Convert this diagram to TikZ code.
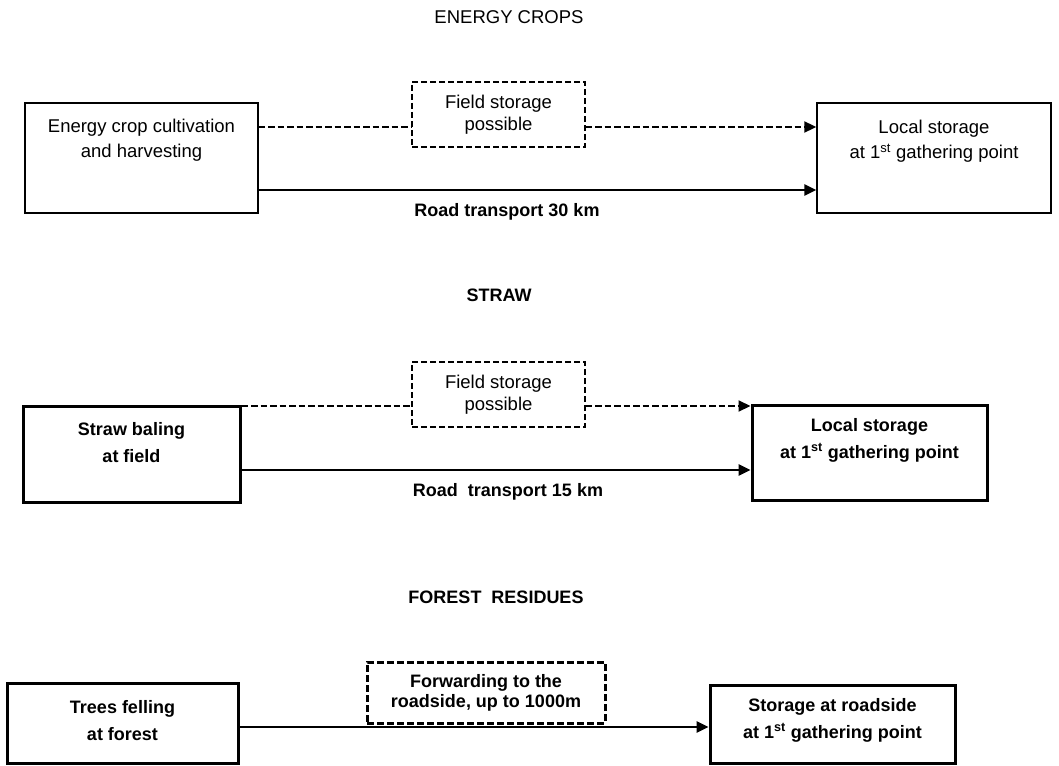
\documentclass[tikz,border=0pt]{standalone}
\usepackage{fontspec}
\setmainfont{Liberation Sans}
\usetikzlibrary{arrows.meta}
\tikzset{
  chain box/.style={rectangle, draw, fill=white, line width=1.4pt, inner sep=0pt},
  chain box heavy/.style={chain box, line width=3pt},
  storage box/.style={rectangle, draw, fill=white, dash pattern=on 6pt off 3pt, line width=1.3pt, inner sep=0pt, align=center, font=\fontsize{18.5}{22}\selectfont},
  storage box heavy/.style={storage box, line width=3pt, dash pattern=on 7pt off 3pt, font=\bfseries\fontsize{18}{20}\selectfont},
  chain text/.style={align=center, inner sep=0pt, font=\fontsize{18.5}{25}\selectfont},
  chain text heavy/.style={chain text, font=\bfseries\fontsize{18}{27}\selectfont},
  chain title/.style={inner sep=0pt, font=\fontsize{18.5}{22}\selectfont},
  chain title heavy/.style={inner sep=0pt, font=\bfseries\fontsize{18}{22}\selectfont},
  chain edge/.style={line width=2.6pt, -{Triangle[length=12pt, width=11pt]}},
  chain edge dashed/.style={line width=2pt, dash pattern=on 6.5pt off 3pt}
}

\begin{document}
\begin{tikzpicture}[x=1pt, y=-1pt]
  \useasboundingbox (0,0) rectangle (1059,765);

  % energy crops
  \node[chain title] (cropstitle) at (509,17) {ENERGY CROPS};
  \node[chain box, minimum width=233pt, minimum height=110pt] (crop) at (141.5,158) {};
  \node[chain text] (croptext) at (141.5,140) {Energy crop cultivation\\and harvesting};
  \node[storage box, minimum width=173pt, minimum height=65pt] (field1) at (498.5,114.5) {Field storage\\possible};
  \node[chain box, minimum width=234pt, minimum height=110pt] (local1) at (934,158) {};
  \node[chain text] (local1text) at (934,141) {Local storage\\at 1\textsuperscript{st} gathering point};
  \coordinate (dash1) at (0,127);
  \coordinate (road1) at (0,190);
  \draw[chain edge dashed] (crop.east |- dash1) -- (field1.west |- dash1);
  \draw[chain edge dashed, -{Triangle[length=12pt, width=11pt]}] (field1.east |- dash1) -- (local1.west |- dash1);
  \draw[chain edge] (crop.east |- road1) -- (local1.west |- road1);
  \node[chain title heavy] (road1label) at (507,212) {Road transport 30 km};

  % straw
  \node[chain title heavy] (strawtitle) at (499,295) {STRAW};
  \node[chain box heavy, minimum width=217pt, minimum height=96pt] (straw) at (131.5,454) {};
  \node[chain text heavy] (strawtext) at (131.5,443) {Straw baling\\at field};
  \node[storage box, minimum width=173pt, minimum height=65pt] (field2) at (498.5,394.5) {Field storage\\possible};
  \node[chain box heavy, minimum width=235pt, minimum height=95pt] (local2) at (869.5,452.5) {};
  \node[chain text heavy] (local2text) at (869.5,440) {Local storage\\at 1\textsuperscript{st} gathering point};
  \coordinate (dash2) at (0,406);
  \coordinate (road2) at (0,470);
  \draw[chain edge dashed] (straw.east |- dash2) -- (field2.west |- dash2);
  \draw[chain edge dashed, -{Triangle[length=12pt, width=11pt]}] (field2.east |- dash2) -- (local2.west |- dash2);
  \draw[chain edge] (straw.east |- road2) -- (local2.west |- road2);
  \node[chain title heavy] (road2label) at (508,492) {Road\ \ transport 15 km};

  % forest residues
  \node[chain title heavy] (foresttitle) at (496,597) {FOREST\ \ RESIDUES};
  \node[chain box heavy, minimum width=231pt, minimum height=80pt] (trees) at (122.5,723) {};
  \node[chain text heavy] (treestext) at (122.5,721) {Trees felling\\at forest};
  \node[storage box heavy, minimum width=238pt, minimum height=61pt] (forward) at (486,692.5) {Forwarding to the\\roadside, up to 1000m};
  \node[chain box heavy, minimum width=245pt, minimum height=78pt] (roadside) at (832.5,724) {};
  \node[chain text heavy] (roadsidetext) at (832.5,720) {Storage at roadside\\at 1\textsuperscript{st} gathering point};
  \coordinate (road3) at (0,727);
  \draw[chain edge] (trees.east |- road3) -- (roadside.west |- road3);
\end{tikzpicture}
\end{document}
